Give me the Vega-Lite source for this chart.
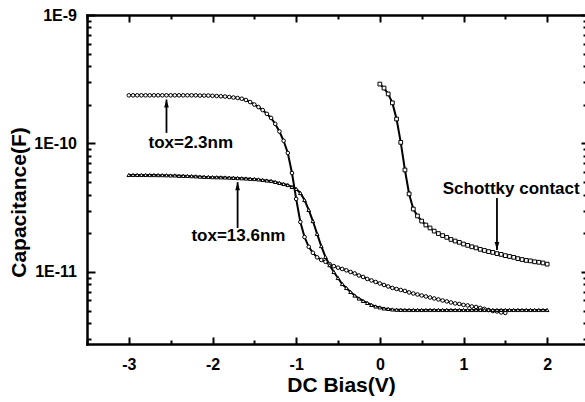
{
  "$schema": "https://vega.github.io/schema/vega-lite/v6.json",
  "width": 502,
  "height": 329,
  "autosize": {"type": "none"},
  "padding": {"left": 87, "top": 15, "right": -4, "bottom": 58},
  "background": "white",
  "config": {
    "view": {"stroke": null},
    "axis": {
      "domainColor": "black", "domainWidth": 2.5, "domainCap": "square",
      "tickColor": "black", "tickWidth": 2,
      "labelFont": "Liberation Sans", "labelFontWeight": "bold", "labelFontSize": 16, "labelColor": "black",
      "titleFont": "Liberation Sans", "titleFontWeight": "bold", "titleFontSize": 21, "titleColor": "black",
      "grid": false, "labelOverlap": false, "labelFlush": false, "labelBound": false
    }
  },
  "datasets": {
    "curves": [
      {"v":-3,"c":2.37e-10,"s":"a"},{"v":-2.95,"c":2.37e-10,"s":"a"},{"v":-2.9,"c":2.37e-10,"s":"a"},{"v":-2.85,"c":2.37e-10,"s":"a"},{"v":-2.8,"c":2.37e-10,"s":"a"},{"v":-2.75,"c":2.37e-10,"s":"a"},{"v":-2.7,"c":2.37e-10,"s":"a"},{"v":-2.65,"c":2.37e-10,"s":"a"},{"v":-2.6,"c":2.37e-10,"s":"a"},{"v":-2.55,"c":2.37e-10,"s":"a"},{"v":-2.5,"c":2.37e-10,"s":"a"},{"v":-2.45,"c":2.37e-10,"s":"a"},{"v":-2.4,"c":2.37e-10,"s":"a"},{"v":-2.35,"c":2.37e-10,"s":"a"},{"v":-2.3,"c":2.37e-10,"s":"a"},{"v":-2.25,"c":2.37e-10,"s":"a"},{"v":-2.2,"c":2.37e-10,"s":"a"},{"v":-2.15,"c":2.36e-10,"s":"a"},{"v":-2.1,"c":2.36e-10,"s":"a"},{"v":-2.05,"c":2.36e-10,"s":"a"},{"v":-2,"c":2.35e-10,"s":"a"},{"v":-1.95,"c":2.34e-10,"s":"a"},{"v":-1.9,"c":2.33e-10,"s":"a"},{"v":-1.85,"c":2.32e-10,"s":"a"},{"v":-1.8,"c":2.30e-10,"s":"a"},{"v":-1.75,"c":2.28e-10,"s":"a"},{"v":-1.7,"c":2.26e-10,"s":"a"},{"v":-1.65,"c":2.23e-10,"s":"a"},{"v":-1.6,"c":2.18e-10,"s":"a"},{"v":-1.55,"c":2.10e-10,"s":"a"},{"v":-1.5,"c":2.01e-10,"s":"a"},{"v":-1.45,"c":1.92e-10,"s":"a"},{"v":-1.4,"c":1.82e-10,"s":"a"},{"v":-1.35,"c":1.70e-10,"s":"a"},{"v":-1.3,"c":1.58e-10,"s":"a"},{"v":-1.25,"c":1.42e-10,"s":"a"},{"v":-1.2,"c":1.24e-10,"s":"a"},{"v":-1.15,"c":1.05e-10,"s":"a"},{"v":-1.1,"c":8.44e-11,"s":"a"},{"v":-1.05,"c":5.89e-11,"s":"a"},{"v":-1,"c":3.70e-11,"s":"a"},{"v":-0.95,"c":2.45e-11,"s":"a"},{"v":-0.9,"c":1.87e-11,"s":"a"},{"v":-0.85,"c":1.57e-11,"s":"a"},{"v":-0.8,"c":1.41e-11,"s":"a"},{"v":-0.75,"c":1.30e-11,"s":"a"},{"v":-0.7,"c":1.24e-11,"s":"a"},{"v":-0.65,"c":1.20e-11,"s":"a"},{"v":-0.6,"c":1.15e-11,"s":"a"},{"v":-0.55,"c":1.11e-11,"s":"a"},{"v":-0.5,"c":1.08e-11,"s":"a"},{"v":-0.45,"c":1.055e-11,"s":"a"},{"v":-0.4,"c":1.03e-11,"s":"a"},{"v":-0.35,"c":1.00e-11,"s":"a"},{"v":-0.3,"c":9.74e-12,"s":"a"},{"v":-0.25,"c":9.39e-12,"s":"a"},{"v":-0.2,"c":9.14e-12,"s":"a"},{"v":-0.15,"c":8.82e-12,"s":"a"},{"v":-0.1,"c":8.59e-12,"s":"a"},{"v":-0.05,"c":8.36e-12,"s":"a"},{"v":0,"c":8.14e-12,"s":"a"},{"v":0.05,"c":7.92e-12,"s":"a"},{"v":0.1,"c":7.71e-12,"s":"a"},{"v":0.15,"c":7.51e-12,"s":"a"},{"v":0.2,"c":7.37e-12,"s":"a"},{"v":0.25,"c":7.24e-12,"s":"a"},{"v":0.3,"c":7.12e-12,"s":"a"},{"v":0.35,"c":6.93e-12,"s":"a"},{"v":0.4,"c":6.80e-12,"s":"a"},{"v":0.45,"c":6.68e-12,"s":"a"},{"v":0.5,"c":6.56e-12,"s":"a"},{"v":0.55,"c":6.45e-12,"s":"a"},{"v":0.6,"c":6.33e-12,"s":"a"},{"v":0.65,"c":6.22e-12,"s":"a"},{"v":0.7,"c":6.11e-12,"s":"a"},{"v":0.75,"c":6.00e-12,"s":"a"},{"v":0.8,"c":5.90e-12,"s":"a"},{"v":0.85,"c":5.79e-12,"s":"a"},{"v":0.9,"c":5.69e-12,"s":"a"},{"v":0.95,"c":5.64e-12,"s":"a"},{"v":1,"c":5.54e-12,"s":"a"},{"v":1.05,"c":5.49e-12,"s":"a"},{"v":1.1,"c":5.39e-12,"s":"a"},{"v":1.15,"c":5.34e-12,"s":"a"},{"v":1.2,"c":5.25e-12,"s":"a"},{"v":1.25,"c":5.16e-12,"s":"a"},{"v":1.3,"c":5.06e-12,"s":"a"},{"v":1.35,"c":4.97e-12,"s":"a"},{"v":1.4,"c":4.93e-12,"s":"a"},{"v":1.45,"c":4.84e-12,"s":"a"},{"v":1.5,"c":4.80e-12,"s":"a"},

      {"v":-3,"c":5.69e-11,"s":"b"},{"v":-2.95,"c":5.69e-11,"s":"b"},{"v":-2.9,"c":5.69e-11,"s":"b"},{"v":-2.85,"c":5.69e-11,"s":"b"},{"v":-2.8,"c":5.69e-11,"s":"b"},{"v":-2.75,"c":5.68e-11,"s":"b"},{"v":-2.7,"c":5.68e-11,"s":"b"},{"v":-2.65,"c":5.67e-11,"s":"b"},{"v":-2.6,"c":5.67e-11,"s":"b"},{"v":-2.55,"c":5.66e-11,"s":"b"},{"v":-2.5,"c":5.64e-11,"s":"b"},{"v":-2.45,"c":5.64e-11,"s":"b"},{"v":-2.4,"c":5.60e-11,"s":"b"},{"v":-2.35,"c":5.60e-11,"s":"b"},{"v":-2.3,"c":5.59e-11,"s":"b"},{"v":-2.25,"c":5.57e-11,"s":"b"},{"v":-2.2,"c":5.55e-11,"s":"b"},{"v":-2.15,"c":5.52e-11,"s":"b"},{"v":-2.1,"c":5.50e-11,"s":"b"},{"v":-2.05,"c":5.49e-11,"s":"b"},{"v":-2,"c":5.47e-11,"s":"b"},{"v":-1.95,"c":5.46e-11,"s":"b"},{"v":-1.9,"c":5.45e-11,"s":"b"},{"v":-1.85,"c":5.44e-11,"s":"b"},{"v":-1.8,"c":5.42e-11,"s":"b"},{"v":-1.75,"c":5.40e-11,"s":"b"},{"v":-1.7,"c":5.38e-11,"s":"b"},{"v":-1.65,"c":5.36e-11,"s":"b"},{"v":-1.6,"c":5.34e-11,"s":"b"},{"v":-1.55,"c":5.31e-11,"s":"b"},{"v":-1.5,"c":5.29e-11,"s":"b"},{"v":-1.45,"c":5.25e-11,"s":"b"},{"v":-1.4,"c":5.20e-11,"s":"b"},{"v":-1.35,"c":5.15e-11,"s":"b"},{"v":-1.3,"c":5.11e-11,"s":"b"},{"v":-1.25,"c":5.02e-11,"s":"b"},{"v":-1.2,"c":4.93e-11,"s":"b"},{"v":-1.15,"c":4.84e-11,"s":"b"},{"v":-1.1,"c":4.75e-11,"s":"b"},{"v":-1.05,"c":4.59e-11,"s":"b"},{"v":-1,"c":4.43e-11,"s":"b"},{"v":-0.95,"c":4.12e-11,"s":"b"},{"v":-0.9,"c":3.63e-11,"s":"b"},{"v":-0.85,"c":3.04e-11,"s":"b"},{"v":-0.8,"c":2.49e-11,"s":"b"},{"v":-0.75,"c":1.98e-11,"s":"b"},{"v":-0.7,"c":1.59e-11,"s":"b"},{"v":-0.65,"c":1.31e-11,"s":"b"},{"v":-0.6,"c":1.13e-11,"s":"b"},{"v":-0.55,"c":1.00e-11,"s":"b"},{"v":-0.5,"c":8.98e-12,"s":"b"},{"v":-0.45,"c":8.06e-12,"s":"b"},{"v":-0.4,"c":7.51e-12,"s":"b"},{"v":-0.35,"c":6.99e-12,"s":"b"},{"v":-0.3,"c":6.56e-12,"s":"b"},{"v":-0.25,"c":6.22e-12,"s":"b"},{"v":-0.2,"c":5.95e-12,"s":"b"},{"v":-0.15,"c":5.74e-12,"s":"b"},{"v":-0.1,"c":5.54e-12,"s":"b"},{"v":-0.05,"c":5.39e-12,"s":"b"},{"v":0,"c":5.30e-12,"s":"b"},{"v":0.05,"c":5.20e-12,"s":"b"},{"v":0.1,"c":5.16e-12,"s":"b"},{"v":0.15,"c":5.11e-12,"s":"b"},{"v":0.2,"c":5.08e-12,"s":"b"},{"v":0.25,"c":5.07e-12,"s":"b"},{"v":0.3,"c":5.06e-12,"s":"b"},{"v":0.35,"c":5.06e-12,"s":"b"},{"v":0.4,"c":5.06e-12,"s":"b"},{"v":0.45,"c":5.06e-12,"s":"b"},{"v":0.5,"c":5.06e-12,"s":"b"},{"v":0.55,"c":5.06e-12,"s":"b"},{"v":0.6,"c":5.06e-12,"s":"b"},{"v":0.65,"c":5.06e-12,"s":"b"},{"v":0.7,"c":5.06e-12,"s":"b"},{"v":0.75,"c":5.06e-12,"s":"b"},{"v":0.8,"c":5.06e-12,"s":"b"},{"v":0.85,"c":5.06e-12,"s":"b"},{"v":0.9,"c":5.06e-12,"s":"b"},{"v":0.95,"c":5.06e-12,"s":"b"},{"v":1,"c":5.06e-12,"s":"b"},{"v":1.05,"c":5.06e-12,"s":"b"},{"v":1.1,"c":5.06e-12,"s":"b"},{"v":1.15,"c":5.06e-12,"s":"b"},{"v":1.2,"c":5.06e-12,"s":"b"},{"v":1.25,"c":5.06e-12,"s":"b"},{"v":1.3,"c":5.06e-12,"s":"b"},{"v":1.35,"c":5.06e-12,"s":"b"},{"v":1.4,"c":5.06e-12,"s":"b"},{"v":1.45,"c":5.06e-12,"s":"b"},{"v":1.5,"c":5.06e-12,"s":"b"},{"v":1.55,"c":5.06e-12,"s":"b"},{"v":1.6,"c":5.06e-12,"s":"b"},{"v":1.65,"c":5.06e-12,"s":"b"},{"v":1.7,"c":5.06e-12,"s":"b"},{"v":1.75,"c":5.06e-12,"s":"b"},{"v":1.8,"c":5.06e-12,"s":"b"},{"v":1.85,"c":5.06e-12,"s":"b"},{"v":1.9,"c":5.06e-12,"s":"b"},{"v":1.95,"c":5.06e-12,"s":"b"},{"v":2,"c":5.06e-12,"s":"b"},

      {"v":0,"c":2.90e-10,"s":"c"},{"v":0.05,"c":2.70e-10,"s":"c"},{"v":0.1,"c":2.43e-10,"s":"c"},{"v":0.15,"c":2.07e-10,"s":"c"},{"v":0.2,"c":1.55e-10,"s":"c"},{"v":0.25,"c":1.02e-10,"s":"c"},{"v":0.3,"c":6.22e-11,"s":"c"},{"v":0.35,"c":4.05e-11,"s":"c"},{"v":0.4,"c":3.09e-11,"s":"c"},{"v":0.45,"c":2.73e-11,"s":"c"},{"v":0.5,"c":2.49e-11,"s":"c"},{"v":0.55,"c":2.32e-11,"s":"c"},{"v":0.6,"c":2.20e-11,"s":"c"},{"v":0.65,"c":2.08e-11,"s":"c"},{"v":0.7,"c":1.99e-11,"s":"c"},{"v":0.75,"c":1.92e-11,"s":"c"},{"v":0.8,"c":1.86e-11,"s":"c"},{"v":0.85,"c":1.79e-11,"s":"c"},{"v":0.9,"c":1.74e-11,"s":"c"},{"v":0.95,"c":1.70e-11,"s":"c"},{"v":1,"c":1.65e-11,"s":"c"},{"v":1.05,"c":1.61e-11,"s":"c"},{"v":1.1,"c":1.57e-11,"s":"c"},{"v":1.15,"c":1.54e-11,"s":"c"},{"v":1.2,"c":1.50e-11,"s":"c"},{"v":1.25,"c":1.47e-11,"s":"c"},{"v":1.3,"c":1.44e-11,"s":"c"},{"v":1.35,"c":1.42e-11,"s":"c"},{"v":1.4,"c":1.39e-11,"s":"c"},{"v":1.45,"c":1.37e-11,"s":"c"},{"v":1.5,"c":1.34e-11,"s":"c"},{"v":1.55,"c":1.32e-11,"s":"c"},{"v":1.6,"c":1.30e-11,"s":"c"},{"v":1.65,"c":1.27e-11,"s":"c"},{"v":1.7,"c":1.25e-11,"s":"c"},{"v":1.75,"c":1.23e-11,"s":"c"},{"v":1.8,"c":1.22e-11,"s":"c"},{"v":1.85,"c":1.20e-11,"s":"c"},{"v":1.9,"c":1.19e-11,"s":"c"},{"v":1.95,"c":1.175e-11,"s":"c"},{"v":2,"c":1.15e-11,"s":"c"}
    ],
    "notes": [
      {"v": -2.26, "c": 1.01e-10, "label": "tox=2.3nm"},
      {"v": -1.69, "c": 1.9e-11, "label": "tox=13.6nm"},
      {"v": 1.57, "c": 4.43e-11, "label": "Schottky contact"}
    ],
    "arrows": [
      {"v": -2.55, "c": 2.2e-10, "c2": 1.21e-10, "dir": "up"},
      {"v": -1.7, "c": 5.0e-11, "c2": 2.2e-11, "dir": "up"},
      {"v": 1.4, "c": 1.48e-11, "c2": 3.77e-11, "dir": "down"}
    ]
  },
  "layer": [
    {
      "data": {"name": "curves"},
      "mark": {"type": "line", "color": "black", "strokeWidth": 2},
      "encoding": {
        "x": {"field": "v", "type": "quantitative",
          "scale": {"domain": [-3.5, 2.5], "nice": false, "zero": false},
          "axis": {"orient": "bottom",
            "values": [-3,-2,-1,0,1,2],
            "ticks": true, "tickSize": 0,
            "labelExpr": "'' + datum.value",
            "labelPadding": 12,
            "title": "DC Bias(V)", "titleX": 254, "titleY": 47.5, "titleBaseline": "alphabetic", "titleAlign": "center"}},
        "y": {"field": "c", "type": "quantitative",
          "scale": {"type": "log", "domain": [2.75e-12, 1e-9], "nice": false},
          "axis": {"orient": "left",
            "values": [1e-11, 1e-10, 1e-9],
            "ticks": true, "tickSize": 0,
            "labelExpr": "'1E' + round(log(datum.value)/LN10)",
            "labelPadding": 10.5,
            "title": "Capacitance(F)", "titleX": -62, "titleY": 187, "titleAngle": -90, "titleBaseline": "alphabetic", "titleAlign": "center"}},
        "detail": {"field": "s"}
      }
    },
    {
      "data": {"name": "curves"},
      "mark": {"type": "point", "filled": true, "fill": "white", "stroke": "black", "strokeWidth": 1, "opacity": 1},
      "encoding": {
        "x": {"field": "v", "type": "quantitative",
          "scale": {"domain": [-3.5, 2.5], "nice": false, "zero": false},
          "axis": {"orient": "top", "ticks": false, "labels": false, "title": null}},
        "y": {"field": "c", "type": "quantitative",
          "scale": {"type": "log", "domain": [2.75e-12, 1e-9], "nice": false},
          "axis": {"orient": "right", "ticks": false, "labels": false, "title": null}},
        "shape": {"field": "s", "type": "nominal", "scale": {"domain": ["a","b","c"], "range": ["circle","triangle-up","square"]}, "legend": null},
        "size": {"field": "s", "type": "nominal", "scale": {"domain": ["a","b","c"], "range": [13,14,16]}, "legend": null}
      }
    },
    {
      "data": {"name": "arrows"},
      "mark": {"type": "rule", "color": "black", "strokeWidth": 1.8},
      "encoding": {
        "x": {"field": "v", "type": "quantitative",
          "axis": {"orient": "top", "offset": -329, "domain": false, "labels": false, "title": null,
            "values": [-3.5,-3,-2.5,-2,-1.5,-1,-0.5,0,0.5,1,1.5,2,2.5],
            "tickSize": {"condition": {"test": "datum.value % 1 === 0", "value": 7}, "value": 4}}},
        "y": {"field": "c", "type": "quantitative",
          "axis": {"orient": "right", "offset": -502, "domain": false, "labels": false, "title": null,
            "values": [3e-12,4e-12,5e-12,6e-12,7e-12,8e-12,9e-12,1e-11,2e-11,3e-11,4e-11,5e-11,6e-11,7e-11,8e-11,9e-11,1e-10,2e-10,3e-10,4e-10,5e-10,6e-10,7e-10,8e-10,9e-10,1e-9],
            "tickSize": {"condition": {"test": "abs(log(datum.value)/LN10 - round(log(datum.value)/LN10)) < 0.001", "value": 8}, "value": 4}}},
        "y2": {"field": "c2"}
      }
    },
    {
      "data": {"name": "notes"},
      "mark": {"type": "text", "font": "Liberation Sans", "fontWeight": "bold", "fontSize": 17, "color": "black", "align": "center", "baseline": "middle"},
      "encoding": {
        "x": {"field": "v", "type": "quantitative",
          "axis": {"orient": "bottom", "offset": -329, "domain": false, "labels": false, "title": null,
            "values": [-3.5,-3,-2.5,-2,-1.5,-1,-0.5,0,0.5,1,1.5,2,2.5],
            "tickSize": {"condition": {"test": "datum.value % 1 === 0", "value": 7}, "value": 4}}},
        "y": {"field": "c", "type": "quantitative",
          "axis": {"orient": "left", "offset": -502, "domain": false, "labels": false, "title": null,
            "values": [3e-12,4e-12,5e-12,6e-12,7e-12,8e-12,9e-12,1e-11,2e-11,3e-11,4e-11,5e-11,6e-11,7e-11,8e-11,9e-11,1e-10,2e-10,3e-10,4e-10,5e-10,6e-10,7e-10,8e-10,9e-10,1e-9],
            "tickSize": {"condition": {"test": "abs(log(datum.value)/LN10 - round(log(datum.value)/LN10)) < 0.001", "value": 8}, "value": 6}}},
        "text": {"field": "label"}
      }
    },
    {
      "data": {"name": "arrows"},
      "transform": [{"filter": "datum.dir === 'up'"}],
      "mark": {"type": "point", "shape": "M0,0L0.7,2.4L-0.7,2.4Z", "filled": true, "color": "black", "opacity": 1, "strokeWidth": 0, "size": 45},
      "encoding": {
        "x": {"field": "v", "type": "quantitative", "axis": null},
        "y": {"field": "c", "type": "quantitative", "axis": null}
      }
    },
    {
      "data": {"name": "arrows"},
      "transform": [{"filter": "datum.dir === 'down'"}],
      "mark": {"type": "point", "shape": "M0,0L0.7,-2.4L-0.7,-2.4Z", "filled": true, "color": "black", "opacity": 1, "strokeWidth": 0, "size": 45},
      "encoding": {
        "x": {"field": "v", "type": "quantitative", "axis": null},
        "y": {"field": "c", "type": "quantitative", "axis": null}
      }
    }
  ],
  "resolve": {"axis": {"x": "independent", "y": "independent"}}
}
